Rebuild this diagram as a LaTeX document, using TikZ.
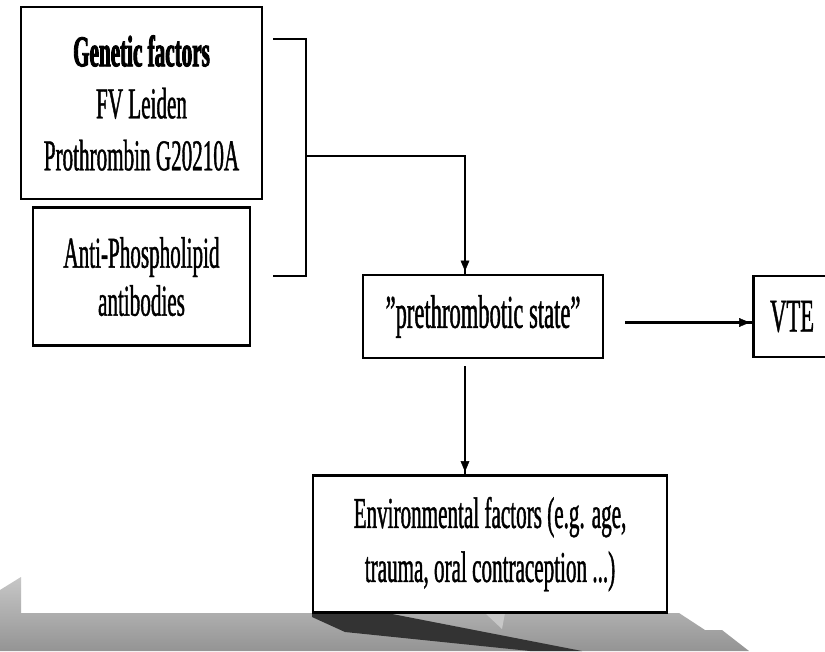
\documentclass[tikz,border=0pt]{standalone}
\usepackage{fontspec}
\setmainfont{Liberation Serif}[FakeStretch=0.48, UprightFeatures={FakeBold=0.9}, BoldFeatures={FakeBold=2}]
\usetikzlibrary{positioning, calc, arrows.meta, decorations.markings}
\tikzstyle{Link} = [
line width=2.3pt,
decoration={
markings,
mark=at position 0.9999 with {
\arrow{Triangle[length=14pt,width=11pt]}}},
preaction = {decorate}]
\tikzstyle{Box} = [draw, line width=2.6pt, align=center, inner sep=0pt,
font=\fontsize{44}{52}\selectfont]

\begin{document}
\begin{tikzpicture}[x=1pt, y=-1pt]
    \useasboundingbox (0,0) rectangle (825,651);
    \fill[white] (0,0) rectangle (825,651);
    \shade[top color=black!22, bottom color=black!42] (0,590) -- (21,577) -- (21,613) -- (679,613) -- (705,630) -- (722,630) -- (749,651) -- (0,651) -- cycle;
    \fill[black!80] (312,613) -- (387,613) -- (582,651) -- (530,651) -- (345,632) -- (312,617) -- cycle;
    \fill[black!22] (485,613) -- (505,613) -- (502,629) -- cycle;
    \node (1) [Box, minimum width=241pt, minimum height=192pt] at (141.5,103) {\textbf{Genetic factors}\\FV Leiden\\Prothrombin G20210A};
    \node [Box, minimum width=217pt, minimum height=138pt, below =6pt of 1, font=\fontsize{44}{48}\selectfont] (2) {Anti-Phospholipid\\antibodies};
    \node (3) [Box, minimum width=240pt, minimum height=83pt, font=\fontsize{47}{52}\selectfont] at (483,316.5) {''prethrombotic state''};
    \node [Box, minimum width=77pt, minimum height=81pt, right =148pt of 3, font=\fontsize{47}{52}\selectfont] (4) {VTE};
    \node [Box, minimum width=354pt, minimum height=137pt, below =115pt of 3, xshift=7pt, font=\fontsize{44}{54}\selectfont] (5) {Environmental factors (e.g. age,\\trauma, oral contraception ...)};
    \coordinate (a) at (273,39);
    \coordinate (b) at (273,276);
    \coordinate (m) at (306,156);
    \coordinate (k) at (465,156);
    \draw[line width=2.6pt] (a) -- ++(33,0) |- (b);
    \draw[Link] (m) -- (k) -- (k |- 3.north);
    \draw[Link] ([yshift=-7pt]k |- 3.south) -- (k |- 5.north);
    \draw[Link] ([xshift=21pt,yshift=-6pt]3.east) -- ([yshift=-6pt]4.west);
\end{tikzpicture}
\end{document}
